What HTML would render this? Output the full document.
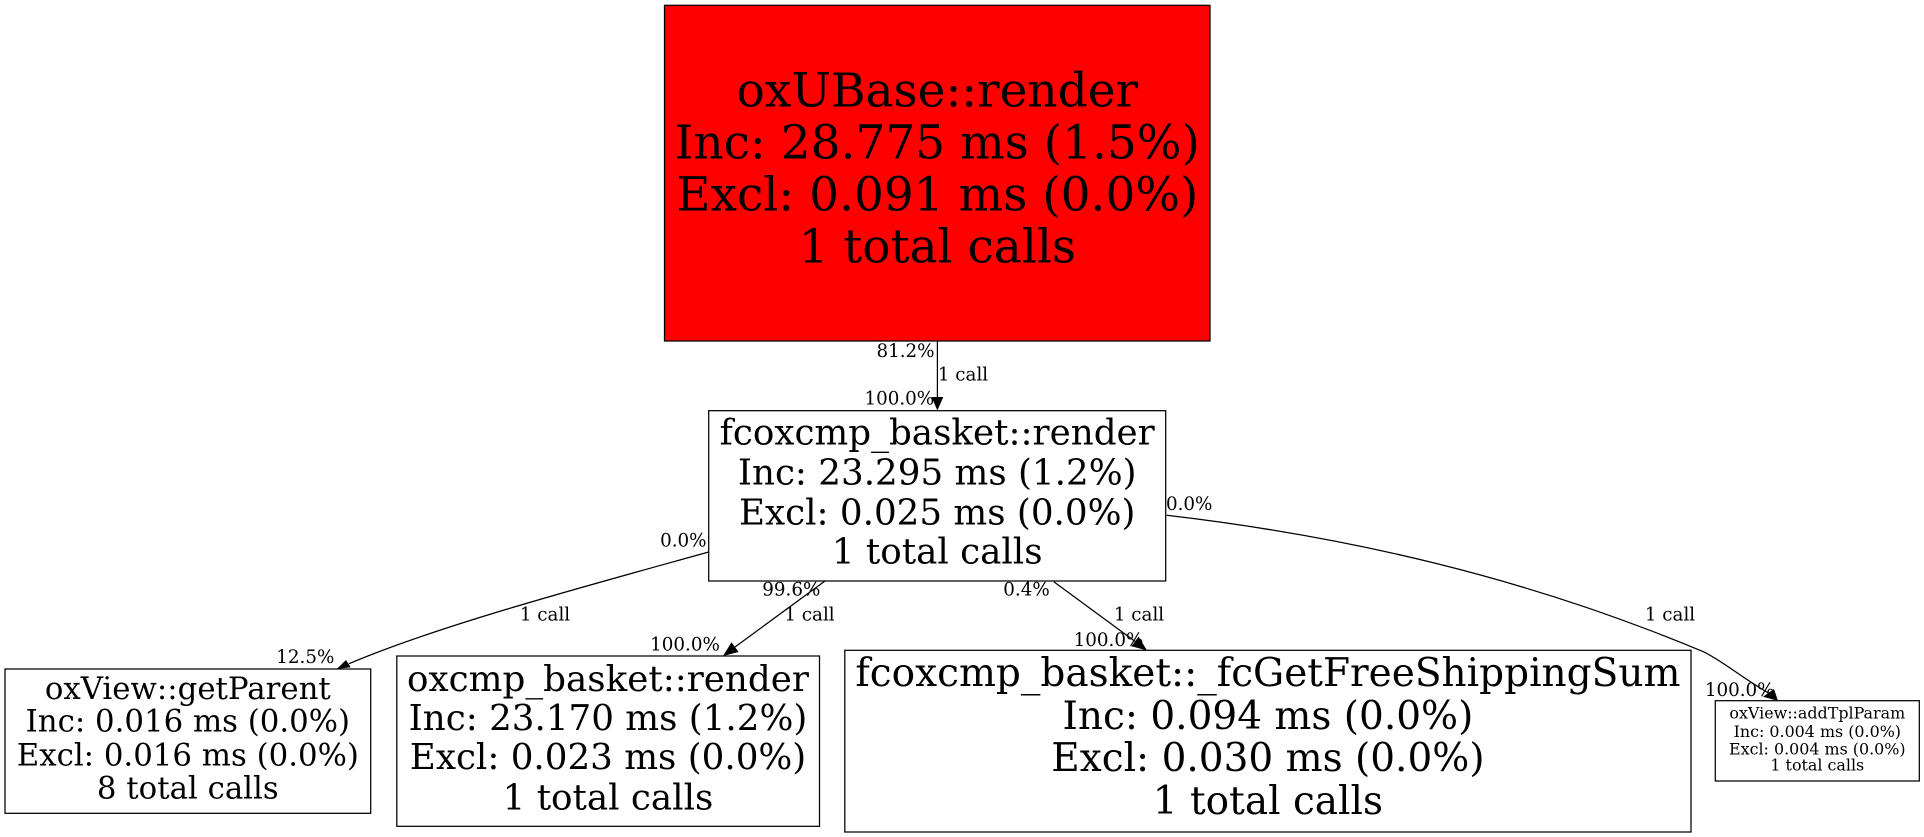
<!DOCTYPE html>
<html><head><meta charset="utf-8"><title>Call graph</title>
<style>html,body{margin:0;padding:0;background:#fff}svg{display:block}
text{font-family:"DejaVu Serif",serif;fill:#000}
.e{font-size:18.3px}
.m{text-anchor:middle}
</style></head><body>
<svg width="1924" height="837" viewBox="0 0 1924 837" xmlns="http://www.w3.org/2000/svg">
<rect width="1924" height="837" fill="#fff"/>
<g stroke="#000" stroke-width="1.25">
<rect x="664.5" y="5.3" width="545.5" height="335.7" fill="#f00"/>
<rect x="708.7" y="410.7" width="457" height="170.3" fill="#fff"/>
<rect x="5" y="669" width="365.7" height="144.3" fill="#fff"/>
<rect x="396.8" y="656" width="422.7" height="170.3" fill="#fff"/>
<rect x="844.8" y="650.3" width="846.2" height="181.7" fill="#fff"/>
<rect x="1715.3" y="700.7" width="204" height="80.3" fill="#fff"/>
</g>
<g fill="none" stroke="#000" stroke-width="1.25">
<path d="M937.4,341V397"/>
<path d="M708.7,552C590,585 440,625 349,663.7"/>
<path d="M825,581L735,647"/>
<path d="M1053.8,581.7L1135,641.4"/>
<path d="M1166.7,515.3C1345.6,536.2 1524,576.5 1703.3,651.7C1722,660.5 1745,680 1768.5,693"/>
</g>
<g fill="#000" stroke="none">
<polygon points="937.4,410.5 931.5,397 943.3,397"/>
<polygon points="336.7,669 346,660 350.7,667.3"/>
<polygon points="723,656 731.5,642.3 738.6,652"/>
<polygon points="1147,650.5 1131.4,646.2 1138.6,636.6"/>
<polygon points="1778,700.9 1763,696.7 1774,689"/>
</g>
<g font-size="47" text-anchor="middle">
<text x="937.3" y="106.3">oxUBase::render</text>
<text x="937.3" y="158.7">Inc: 28.775 ms (1.5%)</text>
<text x="937.3" y="210.7">Excl: 0.091 ms (0.0%)</text>
<text x="937.3" y="262.7">1 total calls</text>
</g>
<g font-size="35.7" text-anchor="middle">
<text x="937.2" y="444.5">fcoxcmp_basket::render</text>
<text x="937.2" y="484.3">Inc: 23.295 ms (1.2%)</text>
<text x="937.2" y="524.3">Excl: 0.025 ms (0.0%)</text>
<text x="937.2" y="563.3">1 total calls</text>
</g>
<g font-size="30.8" text-anchor="middle">
<text x="187.8" y="699">oxView::getParent</text>
<text x="187.8" y="731.7">Inc: 0.016 ms (0.0%)</text>
<text x="187.8" y="765.7">Excl: 0.016 ms (0.0%)</text>
<text x="187.8" y="798.3">8 total calls</text>
</g>
<g font-size="35.7" text-anchor="middle">
<text x="608" y="691">oxcmp_basket::render</text>
<text x="608" y="730">Inc: 23.170 ms (1.2%)</text>
<text x="608" y="769">Excl: 0.023 ms (0.0%)</text>
<text x="608" y="809.3">1 total calls</text>
</g>
<g font-size="39" text-anchor="middle">
<text x="1267.9" y="686">fcoxcmp_basket::_fcGetFreeShippingSum</text>
<text x="1267.9" y="729">Inc: 0.094 ms (0.0%)</text>
<text x="1267.9" y="771">Excl: 0.030 ms (0.0%)</text>
<text x="1267.9" y="814">1 total calls</text>
</g>
<g font-size="15.9" text-anchor="middle">
<text x="1817.3" y="718.7">oxView::addTplParam</text>
<text x="1817.3" y="737">Inc: 0.004 ms (0.0%)</text>
<text x="1817.3" y="754.3">Excl: 0.004 ms (0.0%)</text>
<text x="1817.3" y="770.7">1 total calls</text>
</g>
<g class="e" text-anchor="middle">
<text x="905.5" y="357">81.2%</text>
<text x="963" y="380.7">1 call</text>
<text x="899.3" y="404.7">100.0%</text>
<text x="683.3" y="546.7">0.0%</text>
<text x="545" y="620.7">1 call</text>
<text x="305.3" y="663">12.5%</text>
<text x="791.3" y="595.7">99.6%</text>
<text x="809.5" y="620.7">1 call</text>
<text x="685" y="650.7">100.0%</text>
<text x="1189.2" y="510">0.0%</text>
<text x="1026.5" y="595.7">0.4%</text>
<text x="1139" y="620.7">1 call</text>
<text x="1108.5" y="646">100.0%</text>
<text x="1670" y="620.7">1 call</text>
<text x="1739.7" y="696">100.0%</text>
</g>
</svg>
</body></html>
